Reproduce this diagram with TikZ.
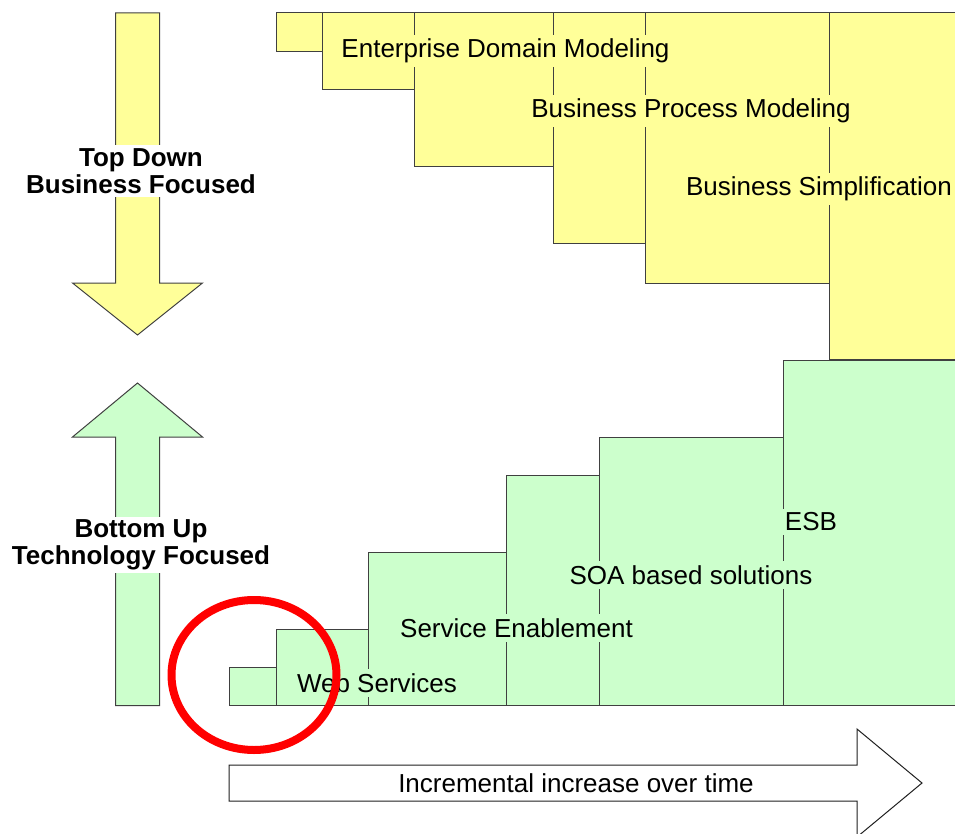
\documentclass[tikz,border=0pt]{standalone}
\usepackage{fontspec}
\setmainfont{Liberation Sans}
\usepackage{tikz}

\begin{document}
\begin{tikzpicture}[x=1pt,y=1pt,yscale=-1,xscale=1,
  ybox/.style={draw={rgb, 255:red, 64; green, 64; blue, 64}, fill={rgb, 255:red, 255; green, 255; blue, 153}, line width=1pt},
  gbox/.style={draw={rgb, 255:red, 64; green, 64; blue, 64}, fill={rgb, 255:red, 204; green, 255; blue, 204}, line width=1pt},
  wbox/.style={draw={rgb, 255:red, 32; green, 32; blue, 32}, fill=white, line width=1pt},
  ytext/.style={fill={rgb, 255:red, 255; green, 255; blue, 153}, inner sep=4pt, font=\fontsize{26}{28}\selectfont},
  gtext/.style={fill={rgb, 255:red, 204; green, 255; blue, 204}, inner sep=4pt, font=\fontsize{26}{28}\selectfont},
  atext/.style={fill=white, inner sep=3pt, align=center, font=\fontsize{26}{27}\selectfont\bfseries}]
\useasboundingbox (0,0) rectangle (955,834);

%Shape: Rectangle [yellow steps]
\draw [ybox] (276,13) rectangle (975,51.5);
\draw [ybox] (322,13) rectangle (975,90);
\draw [ybox] (414.5,13) rectangle (975,167);
\draw [ybox] (553,13) rectangle (975,244);
\draw [ybox] (645,13) rectangle (975,283);
\draw [ybox] (829.5,13) rectangle (975,359.5);

%Shape: Rectangle [green steps]
\draw [gbox] (229.5,667.5) rectangle (975,705.5);
\draw [gbox] (276,629.5) rectangle (975,705.5);
\draw [gbox] (368.5,552.5) rectangle (975,705.5);
\draw [gbox] (506,475.5) rectangle (975,705.5);
\draw [gbox] (599,437) rectangle (975,705.5);
\draw [gbox] (783.5,360) rectangle (975,705.5);

%Shape: Down Arrow
\draw [ybox] (115.5,13) -- (159.5,13) -- (159.5,283) -- (202.5,283) -- (137.5,335) -- (72.5,283) -- (115.5,283) -- cycle;
%Shape: Up Arrow
\draw [gbox] (115.5,705.5) -- (159.5,705.5) -- (159.5,437) -- (202.5,437) -- (137.5,383) -- (72.5,437) -- (115.5,437) -- cycle;
%Shape: Right Arrow
\draw [wbox] (229,765) -- (857,765) -- (857,729) -- (922,783) -- (857,837) -- (857,801) -- (229,801) -- cycle;

% Text Node
\node [ytext] (edm) at (505.5,51) {Enterprise Domain Modeling};
% Text Node
\node [ytext] (bpm) at (691,111) {Business Process Modeling};
% Text Node
\node [ytext] (bsi) at (819,189) {Business Simplification};
% Text Node
\node [gtext] (esb) at (811,522) {ESB};
% Text Node
\node [gtext] (soa) at (691,575) {SOA based solutions};
% Text Node
\node [gtext] (sen) at (516.5,628) {Service Enablement};
% Text Node
\node [gtext] (wsv) at (377,683) {Web Services};
% Text Node
\node [atext] (tdn) at (141,171) {Top Down\\Business Focused};
% Text Node
\node [atext] (bup) at (141,545) {Bottom Up\\Technology Focused};
% Text Node
\node [inner sep=2pt, font=\fontsize{26}{28}\selectfont] (inc) at (576,783) {Incremental increase over time};

%Shape: Ellipse [highlight]
\draw [color={rgb, 255:red, 255; green, 0; blue, 0}, line width=8pt] (254,675) ellipse [x radius=82.5, y radius=75];

\end{tikzpicture}
\end{document}
